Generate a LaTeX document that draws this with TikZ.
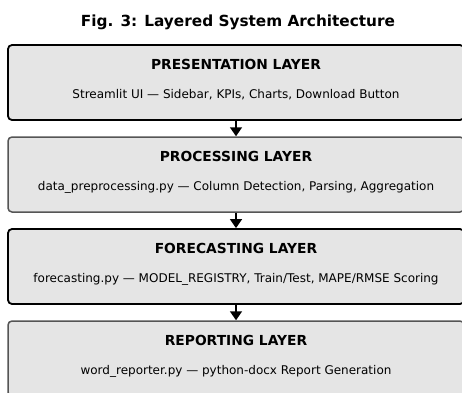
\documentclass[tikz,border=0pt]{standalone}
\usepackage{fontspec}
\setmainfont{DejaVu Sans}
\usetikzlibrary{arrows.meta}
\definecolor{boxfill}{HTML}{E5E5E5}
\definecolor{greyedge}{HTML}{555555}
\tikzset{
  layerbox/.style={draw, fill=boxfill, rounded corners=4pt, minimum width=456pt, minimum height=75pt, inner sep=0pt},
  strongedge/.style={draw=black, line width=1.8pt},
  softedge/.style={draw=greyedge, line width=1.5pt},
  layertitle/.style={anchor=base, inner sep=0pt, font=\fontsize{13.8}{16}\selectfont\bfseries},
  layertext/.style={anchor=base, inner sep=0pt, font=\fontsize{12}{14}\selectfont},
  flow/.style={line width=1.5pt, -{Triangle[width=12pt,length=9pt]}}
}
\begin{document}
\begin{tikzpicture}[x=1pt,y=-1pt]
\useasboundingbox (0,0) rectangle (462,392);
\node[anchor=base, inner sep=0pt, font=\fontsize{15.3}{18}\selectfont\bfseries] (title) at (238,26.5) {Fig. 3: Layered System Architecture};

\node[layerbox, strongedge] (pres) at (236,82.5) {};
\node[layerbox, softedge] (proc) at (236,174.5) {};
\node[layerbox, strongedge] (fore) at (236,266.5) {};
\node[layerbox, softedge] (repo) at (236,358.5) {};

\node[layertitle] (presT) at (236,69.7) {PRESENTATION LAYER};
\node[layertext] (presS) at (236,98) {Streamlit UI — Sidebar, KPIs, Charts, Download Button};

\node[layertitle] (procT) at (236,161.7) {PROCESSING LAYER};
\node[layertext] (procS) at (236,190) {data\_preprocessing.py — Column Detection, Parsing, Aggregation};

\node[layertitle] (foreT) at (236,253.7) {FORECASTING LAYER};
\node[layertext] (foreS) at (236,282) {forecasting.py — MODEL\_REGISTRY, Train/Test, MAPE/RMSE Scoring};

\node[layertitle] (repoT) at (236,345.7) {REPORTING LAYER};
\node[layertext] (repoS) at (236,374) {word\_reporter.py — python-docx Report Generation};

\draw[flow] (pres.south) -- (proc.north);
\draw[flow] (proc.south) -- (fore.north);
\draw[flow] (fore.south) -- (repo.north);
\end{tikzpicture}
\end{document}
